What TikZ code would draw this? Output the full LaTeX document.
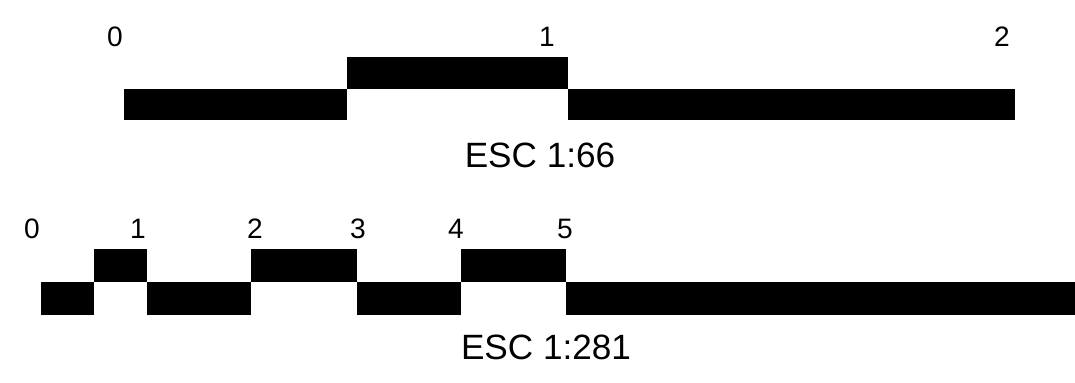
\documentclass[tikz,border=0pt]{standalone}
\usepackage{fontspec}
\setmainfont{Liberation Sans}
\usepackage{tikz}

\begin{document}
\begin{tikzpicture}[x=0.02cm,y=-0.02cm,every node/.style={outer sep=0pt,inner sep=0pt}]

\tikzstyle{bar}=[fill=black,draw=none]
\tikzstyle{tick}=[font=\fontsize{16}{16}\selectfont]
\tikzstyle{esclabel}=[font=\fontsize{20}{20}\selectfont]

\useasboundingbox (0,0) rectangle (1075,382);

% ESC 1:66
\fill [bar] (124,89) rectangle (347,120);
\fill [bar] (347,57) rectangle (568,89);
\fill [bar] (568,89) rectangle (1015,120);
\node (t0) at (115,37) [tick] {0};
\node (t1) at (547,37) [tick] {1};
\node (t2) at (1002,37) [tick] {2};
\node (esc1) at (540,155) [esclabel] {ESC 1:66};

% ESC 1:281
\foreach \a/\b/\lv in {41/94/0,94/147/1,147/251/0,251/357/1,357/461/0,461/566/1,566/1075/0}
  \fill [bar] (\a,282-33*\lv) rectangle (\b,315-33*\lv);
\foreach \x/\n in {32/0,138/1,255/2,358/3,456/4,565/5}
  \node (b\n) at (\x,229) [tick] {\n};
\node (esc2) at (546,347) [esclabel] {ESC 1:281};

\end{tikzpicture}
\end{document}
